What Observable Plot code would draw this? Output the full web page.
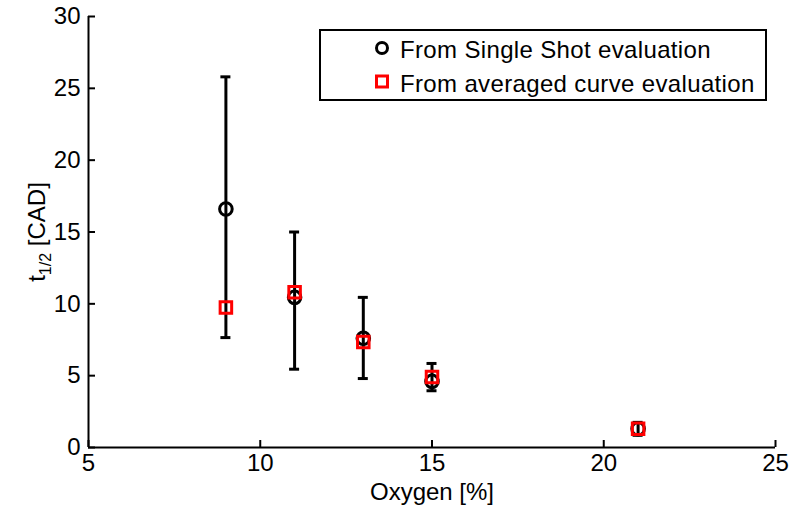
<!DOCTYPE html>
<html><head><meta charset="utf-8">
<script src="https://cdn.jsdelivr.net/npm/d3@7"></script>
<script src="https://cdn.jsdelivr.net/npm/@observablehq/plot@0.6"></script>
<style>body{margin:0;background:#fff}</style>
</head><body><div id="chart"></div>
<script>
const oxygen = [9, 11, 13, 15, 21];
const singleShot = [16.6, 10.45, 7.6, 4.6, 1.3];
const errLow = [7.65, 5.45, 4.8, 3.95, 0.85];
const errHigh = [25.8, 15.0, 10.45, 5.85, 1.75];
const averaged = [9.75, 10.8, 7.35, 4.9, 1.3];
const xTicks = [5, 10, 15, 20, 25];
const yTicks = [0, 5, 10, 15, 20, 25, 30];
const legendLabels = ["From Single Shot evaluation", "From averaged curve evaluation"];

const data = oxygen.map((x, i) => ({x, single: singleShot[i], lo: errLow[i], hi: errHigh[i], avg: averaged[i]}));
const font = "'Liberation Sans', Arial, Helvetica, sans-serif";

const chart = Plot.plot({
  width: 793, height: 510,
  marginLeft: 88, marginRight: 18, marginTop: 16, marginBottom: 63,
  style: {fontSize: "24px", fontFamily: font, color: "black", background: "white"},
  x: {domain: [5, 25]},
  y: {domain: [0, 30]},
  marks: [
    Plot.axisY({ticks: yTicks, tickSize: 0, tickPadding: 8, label: null}),
    Plot.axisX({ticks: xTicks, tickSize: 0, tickPadding: 6, label: "Oxygen [%]", labelAnchor: "center", labelArrow: "none", labelOffset: 52}),
    Plot.ruleX(xTicks, {x: d => d, y1: 0, y2: 0, insetBottom: 7, strokeWidth: 2}),
    Plot.ruleY(yTicks, {y: d => d, x1: 5, x2: 5, insetRight: -7, strokeWidth: 2}),
    Plot.ruleX([5], {strokeWidth: 2}),
    Plot.ruleY([0], {strokeWidth: 2}),
    Plot.ruleX(data, {x: "x", y1: "lo", y2: "hi", strokeWidth: 3}),
    Plot.ruleY(data, {y: "lo", x1: "x", x2: "x", insetLeft: -5, insetRight: -5, strokeWidth: 3}),
    Plot.ruleY(data, {y: "hi", x1: "x", x2: "x", insetLeft: -5, insetRight: -5, strokeWidth: 3}),
    Plot.dot(data, {x: "x", y: "single", r: 6.3, stroke: "black", strokeWidth: 3}),
    Plot.dot(data, {x: "x", y: "avg", symbol: "square", r: 6.5, stroke: "red", strokeWidth: 3})
  ]
});

const svg = d3.select(chart);
// y-axis label with subscript
const yl = svg.append("text")
  .attr("transform", "translate(45,232) rotate(-90)")
  .attr("text-anchor", "middle")
  .attr("font-size", 24).attr("font-family", font).attr("fill", "black");
yl.append("tspan").text("t");
yl.append("tspan").attr("font-size", 16).attr("dy", 6).text("1/2");
yl.append("tspan").attr("dy", -6).text(" [CAD]");

// legend
const lg = svg.append("g").attr("text-anchor", "start");
lg.append("rect").attr("x", 320).attr("y", 30).attr("width", 446).attr("height", 70)
  .attr("fill", "white").attr("stroke", "black").attr("stroke-width", 2);
lg.append("circle").attr("cx", 382).attr("cy", 48).attr("r", 5.5)
  .attr("fill", "none").attr("stroke", "black").attr("stroke-width", 3);
lg.append("rect").attr("x", 376.5).attr("y", 76).attr("width", 11).attr("height", 11)
  .attr("fill", "none").attr("stroke", "red").attr("stroke-width", 3);
legendLabels.forEach((t, i) => {
  lg.append("text").attr("x", 400).attr("y", 49 + i * 34).attr("dy", "0.36em")
    .attr("text-anchor", "start").attr("letter-spacing", "0.35px")
    .attr("font-size", 24).attr("font-family", font).attr("fill", "black").text(t);
});

document.getElementById("chart").append(chart);
</script>
</body></html>
